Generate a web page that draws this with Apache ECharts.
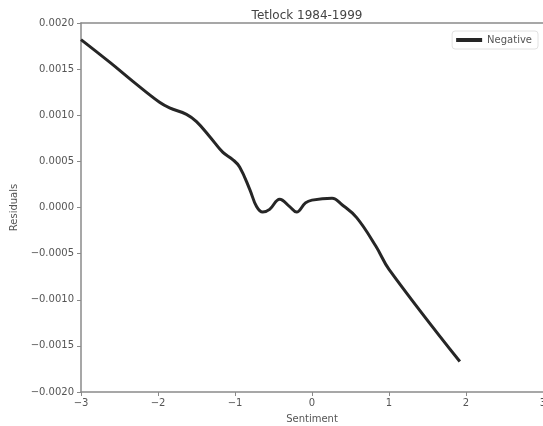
<!DOCTYPE html>
<html>
<head>
<meta charset="utf-8">
<script src="https://cdn.jsdelivr.net/npm/echarts@6/dist/echarts.min.js"></script>
<style>
  html, body { margin: 0; padding: 0; background: #fff; }
  #chart { width: 543px; height: 426px; }
</style>
</head>
<body>
<div id="chart"></div>
<script>
// Smoothed residuals versus sentiment score
const sentiment = [-3.0, -2.62, -2.33, -1.98, -1.85, -1.63, -1.5, -1.33, -1.16, -1.03, -0.94, -0.81, -0.72, -0.64, -0.55, -0.42, -0.29, -0.2, -0.085, 0.0, 0.26, 0.39, 0.58, 0.83, 1.0, 1.92];
const residuals = [0.00182, 0.00157, 0.00137, 0.00114, 0.00108, 0.00101, 0.00093, 0.00077, 0.0006, 0.00052, 0.00044, 0.0002, 0.00001, -0.00005, -0.00002, 0.00009, 0.00001, -0.00005, 0.00005, 0.00008, 0.0001, 0.00003, -0.00011, -0.00042, -0.00067, -0.00167];
const xTicks = [-3, -2, -1, 0, 1, 2, 3];
const yTicks = [-0.002, -0.0015, -0.001, -0.0005, 0, 0.0005, 0.001, 0.0015, 0.002];

const axisGray = '#8a8a8a';
const textGray = '#555';
const fontFamily = 'DejaVu Sans';

const fmtY = v => (v < 0 ? '\u2212' : '') + Math.abs(v).toFixed(4);
const fmtX = v => (v < 0 ? '\u2212' : '') + Math.abs(v);

const chart = echarts.init(document.getElementById('chart'));
chart.setOption({
  animation: false,
  backgroundColor: '#fff',
  title: {
    text: 'Tetlock 1984-1999',
    left: 302,
    textAlign: 'center',
    top: 5,
    textStyle: { fontFamily, fontSize: 12, fontWeight: 'normal', color: '#444' }
  },
  legend: {
    data: ['Negative'],
    right: 5,
    top: 31,
    padding: [4, 6, 4, 4],
    borderColor: '#e2e2e2',
    borderWidth: 1,
    borderRadius: 3,
    itemWidth: 26,
    itemHeight: 4,
    itemGap: 5,
    icon: 'rect',
    textStyle: { fontFamily, fontSize: 10, color: textGray }
  },
  grid: { left: 81, right: 0, top: 23, bottom: 34, outerBoundsMode: 'none', containLabel: false },
  xAxis: [{
    type: 'value',
    min: -3, max: 3, interval: 1,
    name: 'Sentiment',
    nameLocation: 'middle',
    nameGap: 22,
    nameTextStyle: { fontFamily, fontSize: 10, color: textGray },
    axisLine: { onZero: false, lineStyle: { color: axisGray, width: 1.5 } },
    axisTick: { length: 4, lineStyle: { color: axisGray } },
    axisLabel: { fontFamily, fontSize: 10, color: textGray, margin: 6, formatter: fmtX },
    splitLine: { show: false }
  }, {
    type: 'value',
    position: 'top',
    min: -3, max: 3,
    axisLine: { show: true, onZero: false, lineStyle: { color: axisGray, width: 1.5 } },
    axisTick: { show: false },
    axisLabel: { show: false },
    splitLine: { show: false }
  }],
  yAxis: {
    type: 'value',
    min: -0.002, max: 0.002, interval: 0.0005,
    name: 'Residuals',
    nameLocation: 'middle',
    nameGap: 61,
    nameTextStyle: { fontFamily, fontSize: 10, color: textGray },
    axisLine: { show: true, onZero: false, lineStyle: { color: axisGray, width: 1.5 } },
    axisTick: { show: true, length: 4, lineStyle: { color: axisGray } },
    axisLabel: { fontFamily, fontSize: 10, color: textGray, margin: 7, formatter: fmtY },
    splitLine: { show: false }
  },
  series: [{
    name: 'Negative',
    type: 'line',
    xAxisIndex: 0,
    smooth: 0.4,
    showSymbol: false,
    symbol: 'none',
    color: '#262626',
    lineStyle: { width: 3, color: '#262626' },
    data: sentiment.map((s, i) => [s, residuals[i]])
  }]
});
</script>
</body>
</html>
